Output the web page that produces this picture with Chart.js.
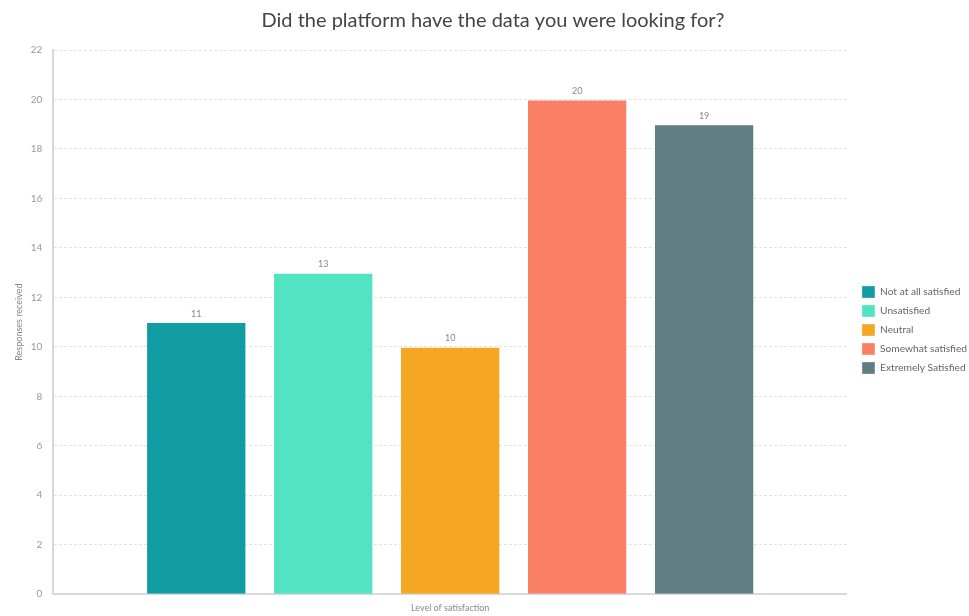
<!DOCTYPE html>
<html>
<head>
<meta charset="utf-8">
<script src="https://cdn.jsdelivr.net/npm/chart.js@4.4.1/dist/chart.umd.min.js"></script>
<style>
  html, body { margin: 0; padding: 0; background: #fff; }
  #chartDiv { width: 969px; height: 616px; }
</style>
</head>
<body>
<div id="chartDiv"><canvas id="satChart"></canvas></div>
<script>
// Survey answers, one dataset per answer
const answers = ["Not at all satisfied", "Unsatisfied", "Neutral", "Somewhat satisfied", "Extremely Satisfied"];
const responses = [11, 13, 10, 20, 19];
const colours = ["#119CA3", "#52E3C3", "#F5A623", "#F98064", "#607E82"];

// draws the number above each bar
const valueLabels = {
    id: 'valueLabels',
    afterDatasetsDraw(chart) {
        const ctx = chart.ctx;
        ctx.save();
        ctx.font = "9px Lato";
        ctx.fillStyle = "#888";
        ctx.textAlign = "center";
        ctx.textBaseline = "bottom";
        chart.data.datasets.forEach(function(ds, i) {
            const meta = chart.getDatasetMeta(i);
            meta.data.forEach(function(bar, j) {
                ctx.fillText(ds.data[j], bar.x, bar.y - 4);
            });
        });
        ctx.restore();
    }
};

var datasets = [];
for (var i = 0; i < answers.length; i++) {
    datasets.push({
        label: answers[i],
        data: [responses[i]],
        backgroundColor: colours[i],
        borderColor: "rgba(255,255,255,0.35)",
        borderWidth: 1,
        barPercentage: 0.79,
        categoryPercentage: 0.8
    });
}

new Chart(document.getElementById('satChart'), {
    type: 'bar',
    data: { labels: [""], datasets: datasets },
    plugins: [valueLabels],
    options: {
        responsive: true,
        maintainAspectRatio: false,
        animation: false,
        layout: { padding: { left: 9, right: -8, top: 0, bottom: 3 } },
        plugins: {
            title: {
                display: true,
                text: "Did the platform have the data you were looking for?",
                font: { family: "Lato", size: 20, weight: "normal" },
                color: "#444",
                padding: { top: 9, bottom: 17 }
            },
            legend: {
                position: 'right',
                title: {
                    // blank title only pushes the entries down a bit
                    display: true,
                    text: " ",
                    font: { size: 10 },
                    padding: { top: 0, bottom: 35 }
                },
                labels: {
                    font: { family: "Lato", size: 10.2 },
                    color: "#666",
                    boxWidth: 13,
                    boxHeight: 12,
                    padding: 7
                }
            },
            tooltip: { enabled: false }
        },
        scales: {
            x: {
                grid: { display: false },
                border: { color: "#d5d9de", width: 2 },
                ticks: { display: false },
                title: {
                    display: true,
                    text: "Level of satisfaction",
                    font: { family: "Lato", size: 9 },
                    color: "#888",
                    padding: { top: 0, bottom: 0 }
                }
            },
            y: {
                min: 0,
                max: 22,
                ticks: {
                    stepSize: 2,
                    font: { family: "Lato", size: 10 },
                    color: "#999",
                    padding: 11
                },
                grid: { color: "#e3e3e3", drawTicks: false },
                border: { color: "#d5d9de", width: 2, dash: [3, 2] },
                title: {
                    display: true,
                    text: "Responses received",
                    font: { family: "Lato", size: 9 },
                    color: "#888",
                    padding: { top: 5, bottom: -5 }
                }
            },
            // empty axis, only keeps a gap between plot and legend
            gap: {
                position: 'right',
                display: true,
                ticks: { display: false },
                grid: { display: false },
                border: { display: false },
                afterFit: function(axis) { axis.width = 8; }
            }
        }
    }
});
</script>
</body>
</html>
